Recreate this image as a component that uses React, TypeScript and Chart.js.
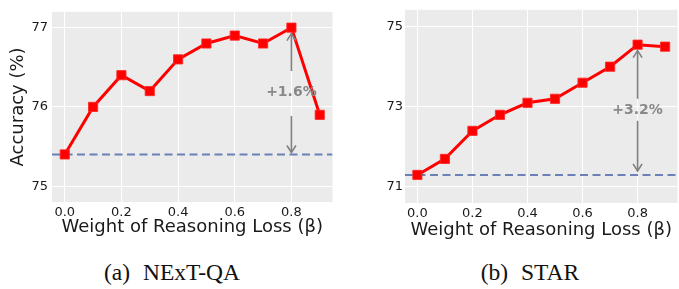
import React, { useEffect, useRef } from "react";
import { Chart, registerables } from "chart.js";

Chart.register(...registerables);

// ---------- data ----------
const betaValues = [0.0, 0.1, 0.2, 0.3, 0.4, 0.5, 0.6, 0.7, 0.8, 0.9];
const nextqaAccuracy = [75.4, 76.0, 76.4, 76.2, 76.6, 76.8, 76.9, 76.8, 77.0, 75.9];
const starAccuracy = [71.3, 71.7, 72.4, 72.8, 73.1, 73.2, 73.6, 74.0, 74.55, 74.5];
const nextqaBaseline = 75.4;
const starBaseline = 71.3;
const xTickValues = [0.0, 0.2, 0.4, 0.6, 0.8];
const nextqaYTicks = [75, 76, 77];
const starYTicks = [71, 73, 75];
const xRange = [-0.045, 0.945];
const nextqaYRange = [74.8, 77.2];
const starYRange = [70.6, 75.42];
const gainAtBeta = 0.8;
const nextqaGainLabel = "+1.6%";
const starGainLabel = "+3.2%";
const xAxisTitle = "Weight of Reasoning Loss (β)";
const yAxisTitle = "Accuracy (%)";
const captions = ["(a) NExT-QA", "(b) STAR"];

const FONT = "'DejaVu Sans', sans-serif";
const TEXT = "#1a1a1a";

const bgPlugin = {
  id: "panelBg",
  beforeDraw(chart: any, _args: any, opts: any) {
    const { ctx, chartArea: a } = chart;
    ctx.save();
    ctx.fillStyle = opts.color || "#ebebeb";
    ctx.fillRect(a.left, a.top, a.right - a.left, a.bottom - a.top);
    ctx.restore();
  },
};

const arrowPlugin = {
  id: "gainArrow",
  afterDatasetsDraw(chart: any, _args: any, opts: any) {
    const { ctx } = chart;
    const xs = chart.scales.x;
    const ys = chart.scales.y;
    const px = xs.getPixelForValue(opts.x);
    const yTop = ys.getPixelForValue(opts.top);
    const yBot = ys.getPixelForValue(opts.bottom);
    const yMid = (yTop + yBot) / 2 + 1;
    ctx.save();
    ctx.strokeStyle = "#808080";
    ctx.lineWidth = 1.6;
    const seg = (y0: number, tip: number) => {
      ctx.beginPath();
      ctx.moveTo(px, y0);
      ctx.lineTo(px, tip);
      ctx.stroke();
      const dir = tip < y0 ? -1 : 1;
      ctx.beginPath();
      ctx.moveTo(px - 4.5, tip - dir * 7);
      ctx.lineTo(px, tip);
      ctx.lineTo(px + 4.5, tip - dir * 7);
      ctx.stroke();
    };
    seg(yMid - opts.gapTop, yTop + opts.shrinkTop);
    seg(yMid + opts.gapBottom, yBot - opts.shrinkBottom);
    ctx.fillStyle = "#888888";
    ctx.font = `bold 14px ${FONT}`;
    ctx.textAlign = "center";
    ctx.textBaseline = "middle";
    ctx.fillText(opts.label, px, yMid);
    ctx.restore();
  },
};

type PanelProps = {
  left: number;
  width: number;
  values: number[];
  baseline: number;
  yRange: number[];
  yTicks: number[];
  gainLabel: string;
  showYTitle: boolean;
  yAxisWidth: number;
  xAxisHeight: number;
  padTop: number;
  padRight: number;
  yTickPad: number;
  xTitlePadBottom: number;
  gapTop: number;
  gapBottom: number;
  shrinkTop: number;
  shrinkBottom: number;
};

function Panel(p: PanelProps) {
  const ref = useRef<HTMLCanvasElement>(null);
  useEffect(() => {
    if (!ref.current) return;
    const chart = new Chart(ref.current, {
      type: "line",
      data: {
        datasets: [
          {
            data: betaValues.map((x, i) => ({ x, y: p.values[i] })),
            borderColor: "#ff0000",
            backgroundColor: "#ff0000",
            borderWidth: 3,
            pointStyle: "rect",
            pointRadius: 6.5,
            pointBorderWidth: 1,
            pointBorderColor: "rgba(255,40,40,0.85)",
            pointBackgroundColor: "#ff0000",
            pointHoverRadius: 6.5,
            tension: 0,
          },
          {
            data: [
              { x: xRange[0], y: p.baseline },
              { x: xRange[1], y: p.baseline },
            ],
            borderColor: "#6a80b6",
            borderWidth: 2,
            borderDash: [8, 4.5],
            pointRadius: 0,
            pointHoverRadius: 0,
          },
        ],
      } as any,
      options: {
        animation: false,
        responsive: false,
        devicePixelRatio: 1,
        events: [],
        layout: { padding: { top: p.padTop, right: p.padRight, left: 0, bottom: 0 } },
        plugins: {
          legend: { display: false },
          tooltip: { enabled: false },
          panelBg: { color: "#ebebeb" },
          gainArrow: {
            x: gainAtBeta,
            top: Math.max(...p.values),
            bottom: p.baseline,
            label: p.gainLabel,
            gapTop: p.gapTop,
            gapBottom: p.gapBottom,
            shrinkTop: p.shrinkTop,
            shrinkBottom: p.shrinkBottom,
          },
        } as any,
        scales: {
          x: {
            type: "linear",
            min: xRange[0],
            max: xRange[1],
            afterBuildTicks: (s: any) => {
              s.ticks = xTickValues.map((v) => ({ value: v }));
            },
            afterFit: (s: any) => {
              s.height = p.xAxisHeight;
            },
            ticks: {
              callback: (v: any) => Number(v).toFixed(1),
              padding: 3,
              color: TEXT,
              font: { family: FONT, size: 13 },
              maxRotation: 0,
              autoSkip: false,
            },
            grid: { color: "#ffffff", lineWidth: 1, drawTicks: false },
            border: { display: false },
            title: {
              display: true,
              text: xAxisTitle,
              color: TEXT,
              font: { family: FONT, size: 18 },
              padding: { top: 0, bottom: p.xTitlePadBottom },
            },
          },
          y: {
            type: "linear",
            min: p.yRange[0],
            max: p.yRange[1],
            afterBuildTicks: (s: any) => {
              s.ticks = p.yTicks.map((v) => ({ value: v }));
            },
            afterFit: (s: any) => {
              s.width = p.yAxisWidth;
            },
            ticks: {
              callback: (v: any) => String(v),
              padding: p.yTickPad,
              color: TEXT,
              font: { family: FONT, size: 13 },
            },
            grid: { color: "#ffffff", lineWidth: 1, drawTicks: false },
            border: { display: false },
            title: {
              display: p.showYTitle,
              text: yAxisTitle,
              color: TEXT,
              font: { family: FONT, size: 18 },
              padding: { top: 7.2, bottom: 0 },
            },
          },
        },
      } as any,
      plugins: [bgPlugin, arrowPlugin] as any,
    });
    return () => chart.destroy();
  }, []);
  return (
    <canvas
      ref={ref}
      width={p.width}
      height={250}
      style={{ position: "absolute", left: p.left, top: 0, width: p.width, height: 250 }}
    />
  );
}

export default function App() {
  const capStyle: React.CSSProperties = {
    position: "absolute",
    top: 258,
    width: 240,
    textAlign: "center",
    fontFamily: "'Liberation Serif', 'Times New Roman', serif",
    fontSize: 23.5,
    lineHeight: "28px",
    wordSpacing: "7px",
    color: "#111",
    whiteSpace: "pre",
  };
  return (
    <div
      style={{
        position: "absolute",
        left: 0,
        top: 0,
        width: 679,
        height: 289,
        overflow: "hidden",
        background: "#ffffff",
      }}
    >
      <Panel
        left={0}
        width={340}
        values={nextqaAccuracy}
        baseline={nextqaBaseline}
        yRange={nextqaYRange}
        yTicks={nextqaYTicks}
        gainLabel={nextqaGainLabel}
        showYTitle={true}
        yAxisWidth={52}
        xAxisHeight={48}
        padTop={2}
        padRight={7}
        yTickPad={4}
        xTitlePadBottom={12.2}
        gapTop={21}
        gapBottom={24}
        shrinkTop={6}
        shrinkBottom={2}
      />
      <Panel
        left={340}
        width={345}
        values={starAccuracy}
        baseline={starBaseline}
        yRange={starYRange}
        yTicks={starYTicks}
        gainLabel={starGainLabel}
        showYTitle={false}
        yAxisWidth={65}
        xAxisHeight={47}
        padTop={7.5}
        padRight={3}
        yTickPad={2}
        xTitlePadBottom={9.2}
        gapTop={12}
        gapBottom={10}
        shrinkTop={6}
        shrinkBottom={4}
      />
      <div style={{ ...capStyle, left: 52 }}>{captions[0]}</div>
      <div style={{ ...capStyle, left: 410 }}>{captions[1]}</div>
    </div>
  );
}
